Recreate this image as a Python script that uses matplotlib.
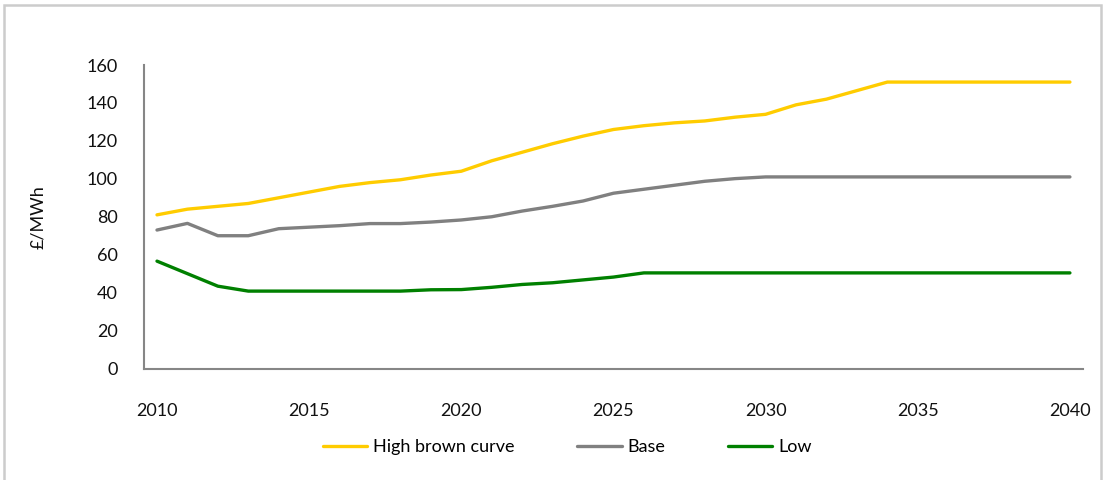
import matplotlib
matplotlib.use("Agg")
import matplotlib.pyplot as plt
from matplotlib.patches import Rectangle

years = list(range(2010, 2041))
high_brown = [81, 84, 85.5, 87, 90, 93, 96, 98, 99.5, 102, 104, 109.5, 114, 118.5, 122.5, 126, 128, 129.5, 130.5, 132.5, 134,
              139, 142, 146.5, 151, 151, 151, 151, 151, 151, 151]
base = [73, 76.5, 70, 70, 73.7, 74.5, 75.3, 76.4, 76.4, 77.2, 78.3, 80, 83, 85.5, 88.3, 92.4, 94.5, 96.6, 98.7, 100.1, 101,
        101, 101, 101, 101, 101, 101, 101, 101, 101, 101]
low = [56.6, 50, 43.4, 40.8, 40.8, 40.8, 40.8, 40.8, 40.8, 41.5, 41.6, 42.8, 44.3, 45.2, 46.7, 48.2, 50.4, 50.4, 50.4, 50.4, 50.4,
       50.4, 50.4, 50.4, 50.4, 50.4, 50.4, 50.4, 50.4, 50.4, 50.4]
series_names = ["High brown curve", "Base", "Low"]
x_ticks = [2010, 2015, 2020, 2025, 2030, 2035, 2040]
y_ticks = list(range(0, 161, 20))

plt.rcParams['font.family'] = ['Lato', 'DejaVu Sans']

fig = plt.figure(figsize=(11.05, 4.8), dpi=100)
fig.patches.append(Rectangle((0.004, -0.01), 0.992, 1.0, transform=fig.transFigure,
                             fill=False, edgecolor='#cccccc', linewidth=1.8))

ax = fig.add_axes([144 / 1105, 1 - 368.5 / 480, (1083 - 144) / 1105, (368.5 - 65) / 480])
colors = ['#FFCC00', '#808080', '#008000']
for vals, name, c in zip([high_brown, base, low], series_names, colors):
    ax.plot(years, vals, color=c, linewidth=2.4, label=name, solid_capstyle='round')

ax.set_xlim(2009.573, 2040.43)
ax.set_ylim(0, 160)
ax.set_xticks(x_ticks)
ax.set_yticks(y_ticks)
ax.tick_params(axis='both', length=0, labelsize=13, colors='#111111')
ax.tick_params(axis='x', pad=25)
ax.tick_params(axis='y', pad=19)
for s in ['top', 'right']:
    ax.spines[s].set_visible(False)
for s in ['left', 'bottom']:
    ax.spines[s].set_color('#868686')
    ax.spines[s].set_linewidth(1.5)
ax.set_ylabel('£/MWh', fontsize=13, labelpad=29, color='#111111')

ax.legend(loc='upper center', bbox_to_anchor=(0.451, -0.18), ncol=3, frameon=False,
          fontsize=13, handlelength=2.45, handletextpad=0.35, columnspacing=3.45)

fig.savefig('out.png', dpi=100)
